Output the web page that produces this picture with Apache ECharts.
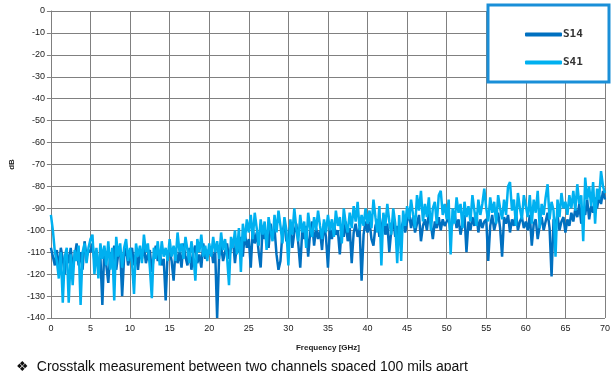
<!DOCTYPE html>
<html>
<head>
<meta charset="utf-8">
<script src="https://cdn.jsdelivr.net/npm/echarts@6/dist/echarts.min.js"></script>
<style>
  html, body { margin: 0; padding: 0; background: #fff; }
  #chart { width: 613px; height: 371px; }
</style>
</head>
<body>
<div id="chart"></div>
<script>
  // sampling of the measurement, GHz
  const freqStart = 0
  const freqStep = 0.25

  // S14, dB (one row = 5 GHz)
  const s14 = [
    -108, -112, -116, -109, -118, -108, -113, -120, -110, -115, -108, -117, -112, -106, -116, -110, -118, -105, -112, -109,
    -110, -106, -114, -109, -117, -112, -134, -108, -116, -124, -110, -115, -107, -118, -111, -109, -130, -112, -108, -116,
    -112, -108, -116, -110, -118, -109, -113, -107, -115, -111, -109, -119, -112, -107, -114, -110, -116, -113, -132, -110,
    -109, -114, -123, -108, -115, -110, -117, -106, -112, -116, -108, -118, -110, -107, -115, -111, -117, -106, -113, -109,
    -111, -108, -115, -109, -140, -112, -107, -114, -110, -106, -113, -108, -104, -115, -106, -110, -103, -112, -101, -108,
    -104, -117, -99, -106, -101, -110, -117, -98, -104, -100, -108, -97, -103, -99, -111, -118, -114, -101, -97, -105,
    -103, -98, -108, -101, -97, -106, -117, -100, -104, -98, -112, -101, -96, -107, -99, -104, -100, -109, -97, -103,
    -117, -99, -104, -97, -102, -100, -111, -98, -103, -96, -105, -99, -115, -101, -97, -103, -99, -123, -102, -96,
    -101, -96, -104, -107, -98, -95, -103, -99, -94, -102, -97, -110, -100, -95, -103, -98, -105, -99, -96, -101,
    -96, -92, -99, -94, -101, -97, -93, -105, -98, -95, -100, -92, -97, -104, -96, -99, -94, -100, -95, -98,
    -98, -94, -101, -96, -92, -99, -95, -102, -97, -93, -110, -96, -100, -94, -98, -92, -101, -95, -99, -96,
    -95, -114, -98, -93, -100, -96, -92, -99, -112, -94, -97, -93, -101, -95, -98, -92, -100, -96, -94, -99,
    -96, -100, -93, -107, -97, -95, -104, -98, -94, -100, -96, -92, -99, -121, -95, -97, -93, -100, -96, -94,
    -101, -95, -98, -92, -96, -90, -94, -88, -97, -91, -93, -86, -95, -89, -92, -85, -90, -84, -88, -82,
    -86
  ]

  // S41, dB (one row = 5 GHz)
  const s41 = [
    -93, -100, -110, -114, -122, -110, -133, -112, -108, -133, -111, -125, -109, -114, -107, -134, -110, -106, -115, -108,
    -104, -102, -120, -108, -122, -106, -113, -107, -116, -105, -118, -108, -132, -103, -112, -106, -117, -108, -104, -114,
    -108, -115, -129, -106, -112, -107, -115, -102, -110, -106, -117, -131, -108, -113, -105, -116, -105, -112, -108, -114,
    -104, -112, -107, -114, -101, -110, -106, -113, -103, -109, -115, -105, -111, -123, -104, -110, -102, -112, -107, -114,
    -106, -112, -103, -110, -105, -113, -101, -109, -104, -112, -125, -103, -108, -100, -111, -99, -119, -97, -105, -95,
    -101, -93, -104, -92, -99, -107, -95, -102, -96, -109, -94, -100, -105, -93, -101, -91, -98, -106, -94, -100,
    -116, -95, -102, -90, -99, -105, -93, -101, -96, -108, -92, -99, -103, -94, -100, -91, -98, -104, -95, -101,
    -93, -100, -95, -103, -91, -98, -94, -106, -90, -97, -101, -92, -99, -89, -96, -87, -100, -93, -98, -90,
    -97, -91, -99, -86, -94, -101, -89, -116, -92, -98, -88, -96, -102, -90, -97, -115, -93, -114, -91, -98,
    -89, -95, -86, -93, -99, -84, -91, -82, -96, -88, -94, -85, -100, -90, -87, -97, -84, -82, -93, -88,
    -95, -86, -111, -90, -97, -85, -92, -88, -99, -87, -94, -89, -96, -84, -91, -98, -86, -93, -88, -81,
    -90, -96, -85, -92, -87, -97, -84, -90, -95, -86, -93, -80, -78, -91, -86, -98, -83, -90, -95, -84,
    -89, -94, -84, -97, -86, -92, -82, -99, -88, -93, -85, -79, -95, -87, -91, -112, -86, -94, -83, -90,
    -87, -93, -84, -90, -82, -91, -79, -88, -84, -105, -76, -86, -80, -89, -78, -97, -81, -86, -73, -80,
    -83
  ]

  const seriesNames = ['S14', 'S41']
  const xTicks = { min: 0, max: 70, interval: 5 }
  const yTicks = { min: -140, max: 0, interval: 10 }

  function pairUp(vals) {
    return vals.map((v, i) => [freqStart + i * freqStep, v])
  }

  let chart = echarts.init(document.getElementById('chart'))

  let axisText = { color: '#1a1a1a', fontSize: 9, fontFamily: 'Liberation Sans, Arial, sans-serif' }

  let option = {
    animation: false,
    grid: { left: 48, right: 4, top: 11, bottom: 53 },
    xAxis: {
      type: 'value',
      min: xTicks.min,
      max: xTicks.max,
      interval: xTicks.interval,
      name: 'Frequency [GHz]',
      nameLocation: 'middle',
      nameGap: 26,
      nameTextStyle: { color: '#222', fontSize: 8, fontWeight: 'bold', fontFamily: 'Liberation Sans, Arial, sans-serif' },
      axisLine: { lineStyle: { color: '#7f7f7f', width: 1 } },
      axisTick: { show: true, length: 4, lineStyle: { color: '#7f7f7f' } },
      axisLabel: Object.assign({ margin: 6 }, axisText),
      splitLine: { show: true, lineStyle: { color: '#808080', width: 1 } }
    },
    yAxis: {
      type: 'value',
      min: yTicks.min,
      max: yTicks.max,
      interval: yTicks.interval,
      name: 'dB',
      nameLocation: 'middle',
      nameGap: 34,
      nameTextStyle: { color: '#222', fontSize: 8, fontWeight: 'bold', fontFamily: 'Liberation Sans, Arial, sans-serif' },
      axisLine: { show: true, lineStyle: { color: '#7f7f7f', width: 1 } },
      axisTick: { show: true, length: 4, lineStyle: { color: '#7f7f7f' } },
      axisLabel: Object.assign({ margin: 6 }, axisText),
      splitLine: { show: true, lineStyle: { color: '#808080', width: 1 } }
    },
    legend: {
      orient: 'vertical',
      left: 520,
      top: 24,
      itemWidth: 37,
      itemHeight: 4,
      itemGap: 17,
      icon: 'roundRect',
      z: 10,
      textStyle: { color: '#333', fontSize: 11, fontWeight: 'bold', fontFamily: 'DejaVu Sans Mono, monospace', padding: [0, 0, 0, -4] },
      data: seriesNames
    },
    graphic: [{
      type: 'rect',
      z: 5,
      shape: { x: 488, y: 5, width: 121, height: 77 },
      style: { fill: '#fff', stroke: '#1a8fd8', lineWidth: 3 }
    }, {
      type: 'text',
      left: 16,
      top: 360,
      style: {
        text: '\u2756  Crosstalk measurement between two channels spaced 100 mils apart',
        fill: '#111',
        fontSize: 14,
        fontFamily: 'Liberation Sans, Arial, sans-serif'
      }
    }],
    series: [{
      name: seriesNames[0],
      type: 'line',
      showSymbol: false,
      color: '#0070c0',
      lineStyle: { width: 2.5 },
      z: 2,
      data: pairUp(s14)
    }, {
      name: seriesNames[1],
      type: 'line',
      showSymbol: false,
      color: '#00b0f0',
      lineStyle: { width: 2.5 },
      z: 3,
      data: pairUp(s41)
    }]
  }

  chart.setOption(option)
</script>
</body>
</html>
